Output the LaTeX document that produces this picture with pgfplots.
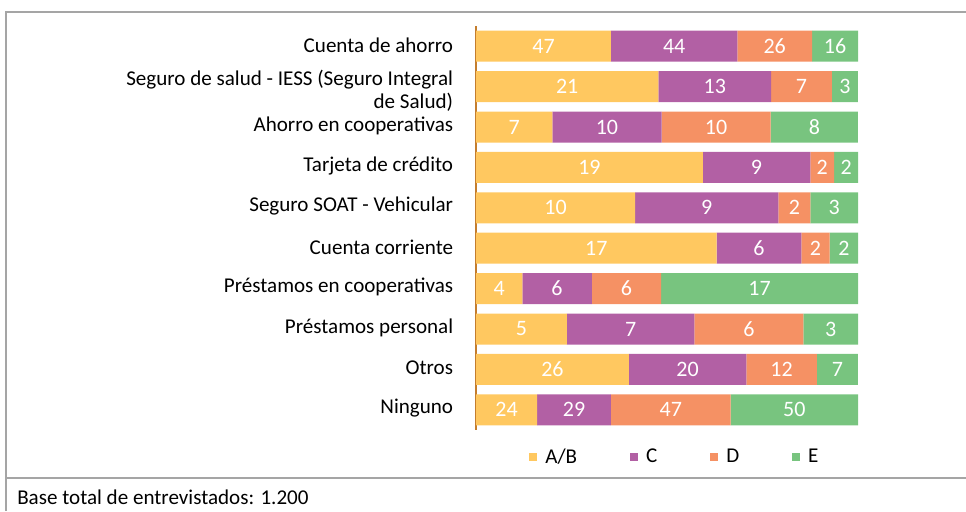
\documentclass[border=0pt]{standalone}
\usepackage{pgfplots}
\pgfplotsset{compat=1.18}
\usepackage{pgfplotstable}
\usepackage{fontspec}
\setmainfont{Carlito}
\definecolor{cAB}{RGB}{255,200,96}
\definecolor{cC}{RGB}{178,96,164}
\definecolor{cD}{RGB}{245,145,100}
\definecolor{cE}{RGB}{120,196,127}
\definecolor{axcol}{RGB}{196,125,45}
\definecolor{framecol}{RGB}{165,165,165}
\newcommand\lblfont{\fontsize{15.8}{17.5}\selectfont}
\newcommand\valfont{\fontsize{16.5}{18}\selectfont}

\pgfplotstableread{
y ab c d e
1 47 44 26 16
2 21 13 7 3
3 7 10 10 8
4 19 9 2 2
5 10 9 2 3
6 17 6 2 2
7 4 6 6 17
8 5 7 6 3
9 26 20 12 7
10 24 29 47 50
}\data
\pgfplotstablecreatecol[create col/expr={\thisrow{ab}+\thisrow{c}+\thisrow{d}+\thisrow{e}}]{tot}\data
\pgfplotstablecreatecol[create col/expr={100*\thisrow{ab}/\thisrow{tot}}]{pab}\data
\pgfplotstablecreatecol[create col/expr={100*\thisrow{c}/\thisrow{tot}}]{pc}\data
\pgfplotstablecreatecol[create col/expr={100*\thisrow{d}/\thisrow{tot}}]{pd}\data
\pgfplotstablecreatecol[create col/expr={100*\thisrow{e}/\thisrow{tot}}]{pe}\data
\pgfplotstablecreatecol[create col/expr={\thisrow{pab}/2}]{mab}\data
\pgfplotstablecreatecol[create col/expr={\thisrow{pab}+\thisrow{pc}/2}]{mc}\data
\pgfplotstablecreatecol[create col/expr={\thisrow{pab}+\thisrow{pc}+\thisrow{pd}/2}]{md}\data
\pgfplotstablecreatecol[create col/expr={\thisrow{pab}+\thisrow{pc}+\thisrow{pd}+\thisrow{pe}/2}]{me}\data

\begin{document}
\begin{tikzpicture}
% frame
\draw[framecol, line width=0.8pt] (4.5pt,0pt) -- (4.5pt,374.25pt) -- (724.5pt,374.25pt);
\draw[framecol, line width=0.8pt] (4.5pt,24.75pt) -- (724.5pt,24.75pt);
\node[anchor=base west, inner sep=0pt, font=\lblfont] at (12.75pt,5.25pt) {Base total de entrevistados: 1.200};

\begin{axis}[
  at={(357pt,60.75pt)}, anchor=south west,
  width=286.5pt, height=303pt, scale only axis,
  xbar stacked, bar width=23.25pt,
  xmin=0, xmax=100, ymin=0.5, ymax=10.5, y dir=reverse,
  axis x line=none, axis y line*=left,
  y axis line style={axcol, line width=1.3pt},
  ytick={1,3,4,5,6,7,8,9,10}, major tick length=0pt,
  yticklabels={Cuenta de ahorro,Ahorro en cooperativas,Tarjeta de crédito,Seguro SOAT - Vehicular,Cuenta corriente,Préstamos en cooperativas,Préstamos personal,Otros,Ninguno},
  yticklabel style={font=\lblfont, align=right, inner sep=0pt, xshift=-17pt, yshift=1pt},
  extra y ticks={2},
  extra y tick labels={{Seguro de salud - IESS (Seguro Integral\\de Salud)}},
  extra y tick style={major tick length=0pt, yticklabel style={yshift=-4.2pt}},
  legend columns=4,
  legend style={at={(0.139,-0.067)}, anchor=west, draw=none, fill=none, inner sep=0pt,
    font=\lblfont, /tikz/every even column/.append style={column sep=37.7pt},
    /tikz/every odd column/.append style={column sep=4pt}},
  legend image code/.code={\fill[#1] (0pt,-3pt) rectangle (6pt,3pt);},
]
\addplot[fill=cAB, draw=none] table[x=pab, y=y]{\data};
\addplot[fill=cC, draw=none] table[x=pc, y=y]{\data};
\addplot[fill=cD, draw=none] table[x=pd, y=y]{\data};
\addplot[fill=cE, draw=none] table[x=pe, y=y]{\data};
\legend{A/B,C,D,E}
\end{axis}

\begin{axis}[
  at={(357pt,60.75pt)}, anchor=south west,
  width=286.5pt, height=303pt, scale only axis,
  xmin=0, xmax=100, ymin=0.5, ymax=10.5, y dir=reverse,
  hide axis,
  nodes near coords, point meta=explicit symbolic,
  every node near coord/.append style={anchor=center, text=white, font=\valfont, inner sep=0pt},
]
\addplot[draw=none, mark=none] table[x=mab, y=y, meta=ab]{\data};
\addplot[draw=none, mark=none] table[x=mc, y=y, meta=c]{\data};
\addplot[draw=none, mark=none] table[x=md, y=y, meta=d]{\data};
\addplot[draw=none, mark=none] table[x=me, y=y, meta=e]{\data};
\end{axis}
\pgfresetboundingbox
\useasboundingbox (0pt,0pt) rectangle (724.5pt,383.25pt);
\end{tikzpicture}
\end{document}
